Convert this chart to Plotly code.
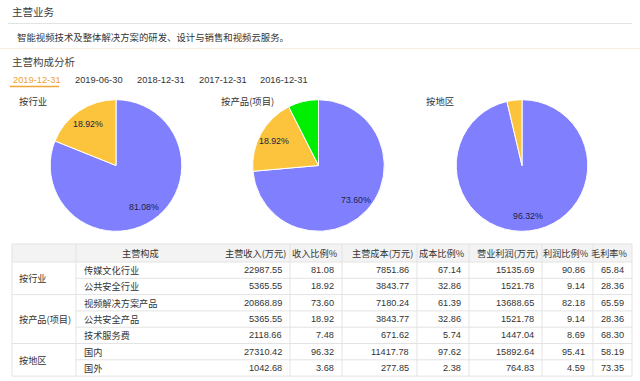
import math
import plotly.graph_objects as go

W, H = 640, 381

# ---------------- data ----------------
industry_labels = ["传媒文化行业", "公共安全行业"]
industry_pct = [81.08, 18.92]
product_labels = ["视频解决方案产品", "公共安全产品", "技术服务费"]
product_pct = [73.60, 18.92, 7.48]
region_labels = ["国内", "国外"]
region_pct = [96.32, 3.68]

tabs = ["2019-12-31", "2019-06-30", "2018-12-31", "2017-12-31", "2016-12-31"]

groups = ["按行业", "按产品(项目)", "按地区"]
group_sizes = [2, 3, 2]
items = industry_labels + product_labels + region_labels
revenue = ["22987.55", "5365.55", "20868.89", "5365.55", "2118.66", "27310.42", "1042.68"]
revenue_pct = ["81.08", "18.92", "73.60", "18.92", "7.48", "96.32", "3.68"]
cost = ["7851.86", "3843.77", "7180.24", "3843.77", "671.62", "11417.78", "277.85"]
cost_pct = ["67.14", "32.86", "61.39", "32.86", "5.74", "97.62", "2.38"]
profit = ["15135.69", "1521.78", "13688.65", "1521.78", "1447.04", "15892.64", "764.83"]
profit_pct = ["90.86", "9.14", "82.18", "9.14", "8.69", "95.41", "4.59"]
margin = ["65.84", "28.36", "65.59", "28.36", "68.30", "58.19", "73.35"]
headers = ["", "主营构成", "主营收入(万元)", "收入比例%", "主营成本(万元)", "成本比例%",
           "营业利润(万元)", "利润比例%", "毛利率%"]

# ---------------- styles ----------------
FONT = "Noto Sans CJK SC, Noto Sans, sans-serif"
NUMF = "Liberation Sans, Arial, Noto Sans CJK SC, sans-serif"
COLORS = ["#8080ff", "#fbc43c", "#00ee00"]
LINE = "#e3e3e3"

def X(x):
    return x / W

def Y(y):
    return 1 - y / H

fig = go.Figure()
annotations = []
shapes = []

def text(x, y, s, size=10, color="#333333", anchor="left", family=FONT):
    annotations.append(dict(x=X(x), y=Y(y), xref="paper", yref="paper", text=s,
                            showarrow=False, xanchor=anchor, yanchor="middle",
                            font=dict(size=size, color=color, family=family)))

def hline(x0, x1, y, color=LINE, width=1):
    shapes.append(dict(type="line", xref="paper", yref="paper", x0=X(x0), x1=X(x1),
                       y0=Y(y), y1=Y(y), line=dict(color=color, width=width)))

def vline(x, y0, y1, color=LINE, width=1):
    shapes.append(dict(type="line", xref="paper", yref="paper", x0=X(x), x1=X(x),
                       y0=Y(y0), y1=Y(y1), line=dict(color=color, width=width)))

# ---------------- header texts ----------------
text(10, 12, "主营业务", size=10.5, color="#3a3a3a")
hline(8, 632, 23.5)
text(15, 37, "智能视频技术及整体解决方案的研发、设计与销售和视频云服务。", size=9.4, color="#333333")
hline(0, 640, 48.5, color="#f6eedf")
text(10, 61, "主营构成分析", size=10.5, color="#4a3f36")

tab_x = [11, 73, 135, 197, 258]
for i, (t, tx) in enumerate(zip(tabs, tab_x)):
    text(tx, 80, t, size=9.3, color="#f0a030" if i == 0 else "#333333", family=NUMF)
hline(10, 59, 86.5, color="#f3a43a", width=1.6)

# ---------------- pies ----------------
pie_sets = [(industry_labels, industry_pct, 116, "按行业", 17),
            (product_labels, product_pct, 318.5, "按产品(项目)", 219),
            (region_labels, region_pct, 522, "按地区", 424)]
cy, r = 165.5, 65.8
for labels, vals, cx, title, tx in pie_sets:
    fig.add_trace(go.Pie(
        labels=labels, values=vals, sort=False, direction="clockwise", rotation=0,
        marker=dict(colors=COLORS[:len(vals)], line=dict(color="white", width=1)),
        textinfo="none",
        domain=dict(x=[X(cx - r), X(cx + r)], y=[Y(cy + r), Y(cy - r)]),
        showlegend=False, hoverinfo="label+percent"))
    text(tx, 101, title, size=9.4, color="#333333")
    # inner labels placed along each slice's mid-angle
    total = sum(vals)
    cum = 0.0
    for v in vals:
        mid = (cum + v / 2) / total * 2 * math.pi
        cum += v
        if v < 10:
            continue
        d = 0.77 * r
        lx = cx + d * math.sin(mid)
        ly = cy - d * math.cos(mid)
        text(lx, ly, f"{v:.2f}%", size=8.8, color="#222244", anchor="center", family=NUMF)

# ---------------- table ----------------
cols = [12, 76, 204, 290, 342, 417, 469, 542, 593, 632]
top, head_b = 244, 262
rh = 16.3
n = len(items)
row_y = [head_b + i * rh for i in range(n + 1)]
bottom = row_y[-1]

shapes.append(dict(type="rect", xref="paper", yref="paper", x0=X(cols[0]), x1=X(cols[-1]),
                   y0=Y(head_b), y1=Y(top), fillcolor="#f3f3f3", line=dict(width=0), layer="below"))

hline(cols[0], cols[-1], top)
hline(cols[0], cols[-1], head_b)
group_bounds = [0]
for s in group_sizes:
    group_bounds.append(group_bounds[-1] + s)
for i in range(1, n + 1):
    x0 = cols[0] if i in group_bounds else cols[1]
    hline(x0, cols[-1], row_y[i])
for j, cx in enumerate(cols):
    if j == 2:
        continue
    vline(cx, top, bottom)

text((cols[1] + cols[2]) / 2, (top + head_b) / 2, headers[1], size=9.2, anchor="center")
for j in range(2, 9):
    text(cols[j + 1] - 2, (top + head_b) / 2, headers[j], size=9.2, anchor="right")

for g, (name, s) in enumerate(zip(groups, group_sizes)):
    yc = (row_y[group_bounds[g]] + row_y[group_bounds[g + 1]]) / 2
    text(17, yc, name, size=9.2)

data_cols = [revenue, revenue_pct, cost, cost_pct, profit, profit_pct, margin]
for i in range(n):
    yc = (row_y[i] + row_y[i + 1]) / 2
    text(82, yc, items[i], size=9.2)
    for j, col in enumerate(data_cols):
        text(cols[j + 3] - 6, yc, col[i], size=9.2, anchor="right", family=NUMF)

fig.update_layout(width=W, height=H, margin=dict(l=0, r=0, t=0, b=0),
                  paper_bgcolor="white", plot_bgcolor="white",
                  annotations=annotations, shapes=shapes)
fig.write_html("out.html")
